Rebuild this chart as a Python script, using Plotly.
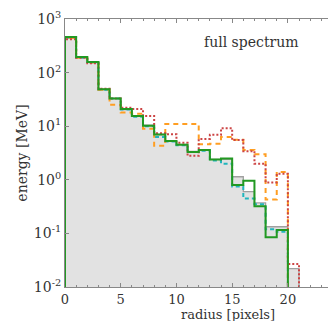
import plotly.graph_objects as go

# bin edges: integer radii, bins of width 1
gray_vals = [440, 190, 155, 49, 33, 20.5, 15.5, 10.5, 7.0, 5.4, 4.6, 3.4, 3.6, 2.4, 2.4, 1.14, 0.6, 0.37, 0.133, 0.133, 0.022]
green_vals = [460, 195, 158, 49, 33, 21, 15.5, 10.2, 7.0, 5.3, 4.5, 3.3, 3.6, 2.4, 2.5, 0.8, 0.96, 0.32, 0.085, 0.116]
teal_vals = [450, 190, 155, 48, 33, 20.5, 15, 10, 6.3, 5.2, 4.4, 3.3, 3.5, 2.3, 2.0, 0.75, 0.45, 0.35, 0.12, 0.107]
orange_vals = [440, 190, 155, 48, 25, 18, 17, 9.0, 4.3, 11, 11, 11, 4.6, 4.7, 6.3, 5.6, 3.6, 3.0, 0.43, 1.4]
red_vals = [420, 190, 150, 50, 33, 22, 21, 15.5, 7.4, 7.1, 4.9, 2.8, 5.8, 6.9, 9.2, 5.5, 3.4, 2.0, 0.89, 1.3, 0.027]

y_tickvals = [1e-2, 1e-1, 1, 10, 100, 1000]
y_ticktext = ["10<sup>-2</sup>", "10<sup>-1</sup>", "10<sup>0</sup>", "10<sup>1</sup>", "10<sup>2</sup>", "10<sup>3</sup>"]
x_tickvals = [0, 5, 10, 15, 20]
title_text = "full spectrum"
x_title = "radius [pixels]"
y_title = "energy [MeV]"

FLOOR = 1e-4


def step(vals):
    xs = [0] + list(range(len(vals))) + [len(vals)]
    ys = [FLOOR] + list(vals) + [FLOOR]
    return xs, ys


fig = go.Figure()

gx, gy = step(gray_vals)
fig.add_trace(go.Scatter(x=gx, y=gy, mode="lines", line=dict(shape="hv", color="#a0a0a0", width=1.3),
                         fill="toself", fillcolor="#e2e2e2", showlegend=False))

for vals, color, dash, width in [
    (teal_vals, "#22b5bd", "4px,3px", 2),
    (orange_vals, "#ff9e22", "5px,4px", 2),
    (red_vals, "#cc4444", "2px,2px", 2),
    (green_vals, "#229922", "solid", 2),
]:
    x, y = step(vals)
    fig.add_trace(go.Scatter(x=x, y=y, mode="lines", line=dict(shape="hv", color=color, dash=dash, width=width),
                             showlegend=False))

font = dict(family="DejaVu Serif", size=14, color="#333333")
small = dict(family="DejaVu Serif", size=13, color="#333333")

fig.update_layout(
    width=329, height=321,
    margin=dict(l=65, r=1, t=19, b=34),
    paper_bgcolor="white", plot_bgcolor="white",
    font=font,
    annotations=[
        dict(text=title_text, x=0.71, y=0.915, xref="paper", yref="paper",
             xanchor="center", yanchor="middle", showarrow=False, font=font),
        dict(text=x_title, x=0.62, y=-0.103, xref="paper", yref="paper",
             xanchor="center", yanchor="middle", showarrow=False, font=small),
    ],
)
fig.update_xaxes(range=[0, 23.6], tickvals=x_tickvals, ticks="inside", ticklen=4,
                 showline=True, linecolor="#888888", linewidth=1, mirror="ticks",
                 showgrid=False, zeroline=False,
                 minor=dict(dtick=1, ticks="inside", ticklen=2, tickcolor="#888888"),
                 tickcolor="#888888", tickfont=small)
fig.update_yaxes(type="log", range=[-2, 3], tickvals=y_tickvals, ticktext=y_ticktext,
                 ticks="inside", ticklen=4, tickcolor="#888888", tickfont=font,
                 showline=True, linecolor="#888888", linewidth=1,
                 showgrid=False, zeroline=False,
                 title=dict(text=y_title, standoff=2, font=font))

fig.write_html("out.html")
